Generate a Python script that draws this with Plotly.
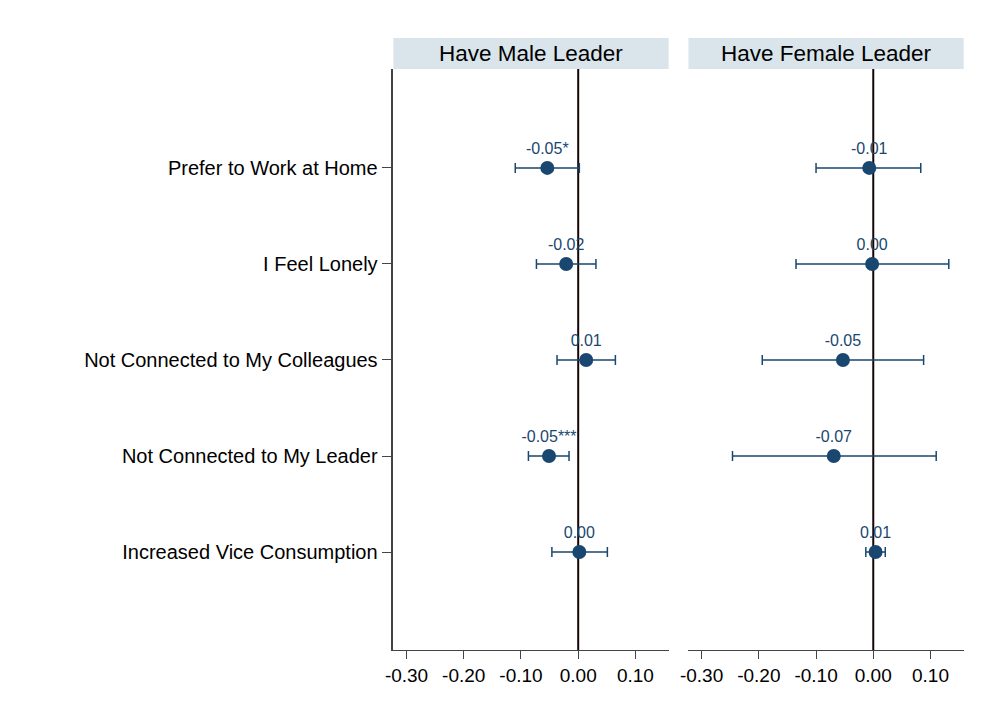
import plotly.graph_objects as go

categories = ["Prefer to Work at Home", "I Feel Lonely", "Not Connected to My Colleagues",
              "Not Connected to My Leader", "Increased Vice Consumption"]
panel_titles = ["Have Male Leader", "Have Female Leader"]

male_est = [-0.054, -0.021, 0.014, -0.051, 0.002]
male_lo = [-0.110, -0.073, -0.037, -0.087, -0.046]
male_hi = [0.002, 0.031, 0.065, -0.016, 0.051]
male_lbl = ["-0.05*", "-0.02", "0.01", "-0.05***", "0.00"]

female_est = [-0.007, -0.002, -0.053, -0.069, 0.004]
female_lo = [-0.100, -0.135, -0.194, -0.246, -0.013]
female_hi = [0.083, 0.132, 0.088, 0.110, 0.021]
female_lbl = ["-0.01", "0.00", "-0.05", "-0.07", "0.01"]

xticks = [-0.3, -0.2, -0.1, 0.0, 0.1]
xticklabels = ["-0.30", "-0.20", "-0.10", "0.00", "0.10"]
ypos = [1, 2, 3, 4, 5]

NAVY = "#1a476f"
FONT = "Liberation Sans, Arial, Helvetica, sans-serif"

fig = go.Figure()

panels = [(male_est, male_lo, male_hi, male_lbl, "x", "y"),
          (female_est, female_lo, female_hi, female_lbl, "x2", "y2")]
for est, lo, hi, lbl, xa, ya in panels:
    fig.add_trace(go.Scatter(
        x=est, y=ypos, xaxis=xa, yaxis=ya,
        mode="markers+text", text=lbl, textposition="top center",
        textfont=dict(size=16, color=NAVY, family=FONT),
        marker=dict(size=14, color=NAVY),
        error_x=dict(type="data", symmetric=False,
                     array=[h - e for h, e in zip(hi, est)],
                     arrayminus=[e - l for e, l in zip(est, lo)],
                     color=NAVY, thickness=1.5, width=5),
        showlegend=False, cliponaxis=False,
    ))

OX, OY = 8, 8
FW, FH = 976, 711
def px(x): return (x - OX) / FW
def py(y): return 1 - (y - OY) / FH

xdom1 = [px(388.5), px(666)]
xdom2 = [px(686), px(963.5)]
ydom = [py(650), py(69)]
xrange_ = [-0.323, 0.158]
yrange_ = [6.02, -0.03]

axis_common = dict(range=xrange_, tickvals=xticks, ticktext=xticklabels,
                   ticks="outside", ticklen=8, tickcolor="#444", showline=True,
                   linecolor="#444", linewidth=1, showgrid=False, zeroline=False,
                   tickfont=dict(size=19, color="black", family=FONT))

fig.update_layout(
    width=FW, height=FH, margin=dict(l=0, r=0, t=0, b=0),
    paper_bgcolor="white", plot_bgcolor="white",
    xaxis=dict(domain=xdom1, anchor="y", **axis_common),
    xaxis2=dict(domain=xdom2, anchor="y2", **axis_common),
    yaxis=dict(domain=ydom, anchor="x", range=yrange_, tickvals=ypos, ticktext=categories,
               ticks="outside", ticklen=10, tickcolor="#444", showline=True,
               linecolor="#444", linewidth=1.5, showgrid=False, zeroline=False,
               tickfont=dict(size=20, color="black", family=FONT)),
    yaxis2=dict(domain=ydom, anchor="x2", range=yrange_, showticklabels=False,
                showline=False, showgrid=False, zeroline=False, ticks=""),
)

shapes = []
for xr in ["x", "x2"]:
    shapes.append(dict(type="line", xref=xr, x0=0, x1=0, yref="paper",
                       y0=ydom[0], y1=ydom[1], line=dict(color="#150505", width=2), layer="below"))
for dom in [xdom1, xdom2]:
    shapes.append(dict(type="rect", xref="paper", yref="paper", x0=dom[0], x1=dom[1],
                       y0=py(69), y1=py(38), fillcolor="#d9e5ea", line=dict(width=0)))
fig.update_layout(shapes=shapes)

annotations = []
for dom, t in zip([xdom1, xdom2], panel_titles):
    annotations.append(dict(text=t, xref="paper", yref="paper", x=(dom[0] + dom[1]) / 2,
                            y=(py(69) + py(38)) / 2, showarrow=False, xanchor="center",
                            yanchor="middle", font=dict(size=22.5, color="black", family=FONT)))
fig.update_layout(annotations=annotations)

fig.write_html("out.html")
